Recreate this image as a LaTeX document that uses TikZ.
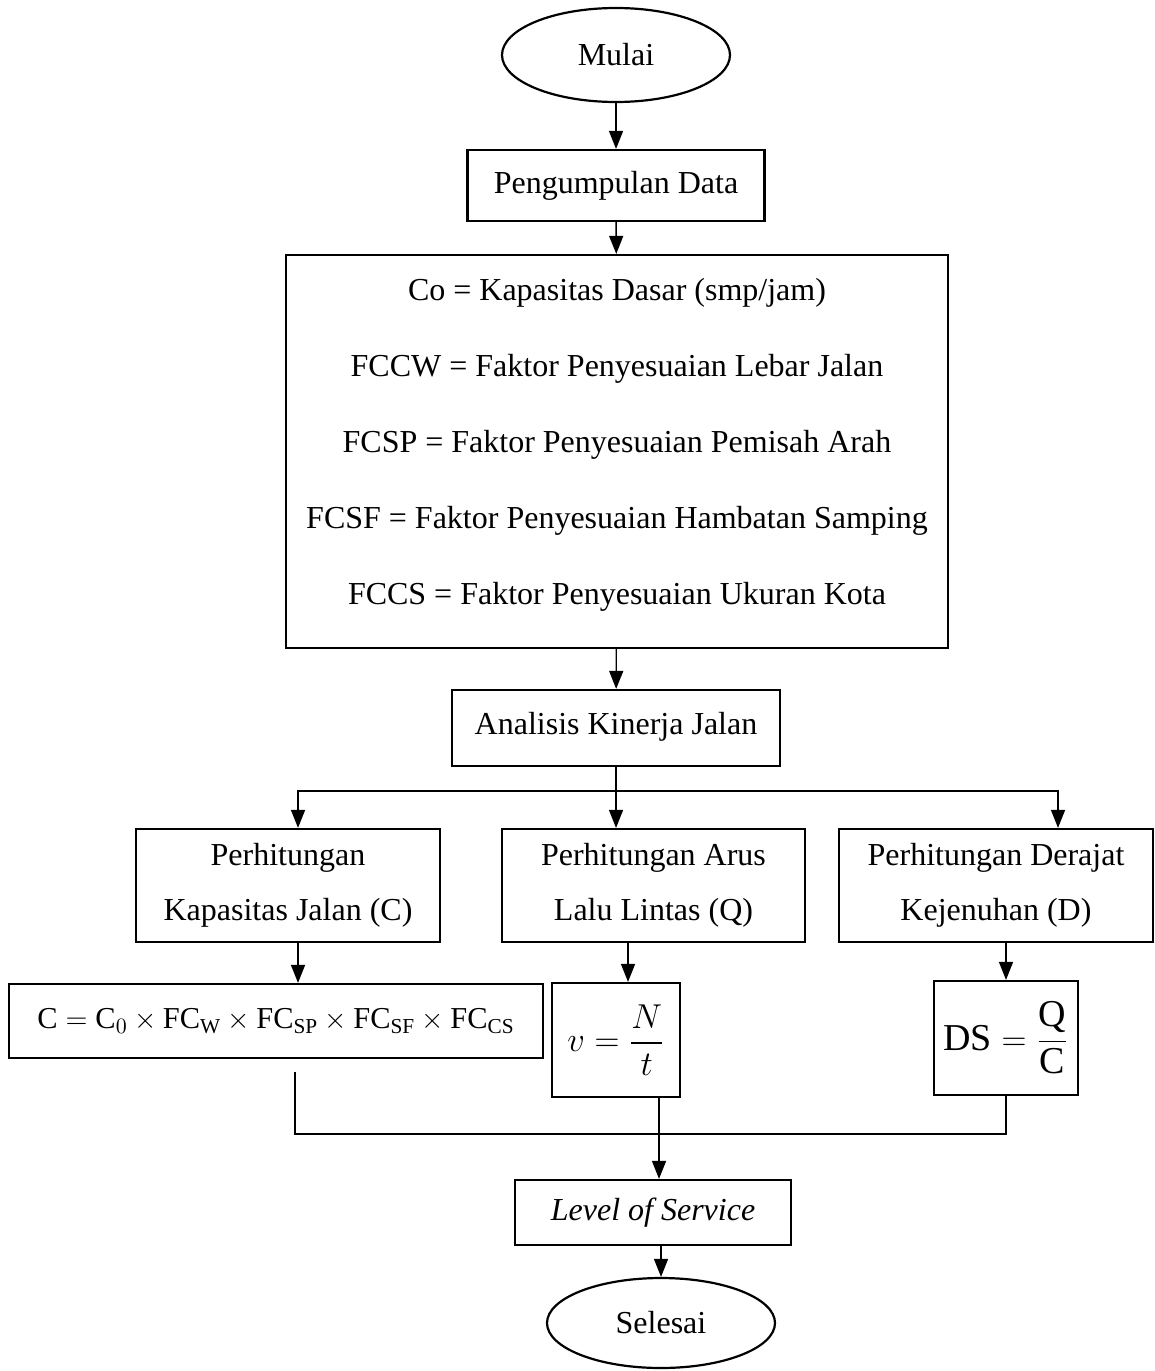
\documentclass[tikz,border=0pt]{standalone}
\usepackage{amsmath}
\usepackage{fontspec}
\setmainfont{Liberation Serif}
\usetikzlibrary{shapes.geometric,arrows.meta}

\begin{document}
\begin{tikzpicture}[x=0.5pt,y=-0.5pt,
        box/.style={draw,line width=1.1pt,align=center,inner sep=0pt},
        oval/.style={draw,ellipse,line width=1.1pt,inner sep=0pt},
        garis/.style={line width=0.7pt},
        panah/.style={garis,-{Triangle[width=7pt,length=9pt]}},
        font=\fontsize{16}{19}\selectfont]
        \useasboundingbox (0,0) rectangle (1155,1371);

        % Nodes
        \node[oval,minimum width=114pt,minimum height=47pt] (mulai) at (616,55) {Mulai};
        \node[box,minimum width=148.5pt,minimum height=35.5pt] (pengumpulan) at (616,185.5) {Pengumpulan Data};
        \node[box,minimum width=331pt,minimum height=196.5pt] (param) at (617,451.5)
            {Co = Kapasitas Dasar (smp/jam)\\[19pt]
             FCCW = Faktor Penyesuaian Lebar Jalan\\[19pt]
             FCSP = Faktor Penyesuaian Pemisah Arah\\[19pt]
             FCSF = Faktor Penyesuaian Hambatan Samping\\[19pt]
             FCCS = Faktor Penyesuaian Ukuran Kota\\[-9pt]\mbox{}};
        \node[box,minimum width=164pt,minimum height=38pt] (analisis) at (616,728) {Analisis Kinerja Jalan\\[-14pt]\mbox{}};

        \node[box,minimum width=152pt,minimum height=56.5pt] (kap) at (288,885.5) {Perhitungan\\[8.5pt] Kapasitas Jalan (C)};
        \node[box,minimum width=151.5pt,minimum height=56.5pt] (arus) at (653.5,885.5) {Perhitungan Arus\\[8.5pt] Lalu Lintas (Q)};
        \node[box,minimum width=157pt,minimum height=56.5pt] (derajat) at (996,885.5) {Perhitungan Derajat\\[8.5pt] Kejenuhan (D)};

        \node[box,minimum width=267pt,minimum height=37pt,font=\fontsize{15.2}{18}\selectfont] (rumusC) at (276,1021)
            {$\mathrm{C} = \mathrm{C}_0 \times \mathrm{FC}_{\mathrm{W}} \times \mathrm{FC}_{\mathrm{SP}} \times \mathrm{FC}_{\mathrm{SF}} \times \mathrm{FC}_{\mathrm{CS}}$};
        \node[box,minimum width=64pt,minimum height=57pt,font=\fontsize{19}{23}\selectfont] (rumusV) at (616,1040) {$v = \dfrac{N}{t}$};
        \node[box,minimum width=72pt,minimum height=57pt,font=\fontsize{19}{23}\selectfont] (ds) at (1006,1038) {$\mathrm{DS} = \dfrac{\mathrm{Q}}{\mathrm{C}}$};

        \node[box,minimum width=138pt,minimum height=32.5pt] (los) at (653,1212.5) {\textit{Level of Service}};
        \node[oval,minimum width=114pt,minimum height=45pt] (selesai) at (661,1323) {Selesai};

        % Edges
        \draw[panah] (mulai) -- (pengumpulan);
        \draw[panah] (pengumpulan) -- (param);
        \draw[panah] (param) -- (analisis);

        \coordinate (cabang) at (616,791);
        \draw[panah] (analisis) -- (analisis |- arus.north);
        \draw[panah] (cabang) -| ([xshift=5pt]kap.north);
        \draw[panah] (cabang) -| ([xshift=31pt]derajat.north);

        \draw[panah] ([xshift=5pt]kap.south) -- ([xshift=5pt]kap.south |- rumusC.north);
        \draw[panah] ([xshift=6pt]rumusV.north |- arus.south) -- ([xshift=6pt]rumusV.north);
        \draw[panah] (ds.north |- derajat.south) -- (ds.north);

        \coordinate (gabung) at (659,1134);
        \draw[garis] ([xshift=9.5pt,yshift=-6.5pt]rumusC.south) |- (gabung);
        \draw[garis] (rumusV.south -| gabung) -- (gabung);
        \draw[garis] (ds.south) |- (gabung);
        \draw[panah] (gabung) -- (gabung |- los.north);
        \draw[panah] (selesai.north |- los.south) -- (selesai.north);
    \end{tikzpicture}
\end{document}
